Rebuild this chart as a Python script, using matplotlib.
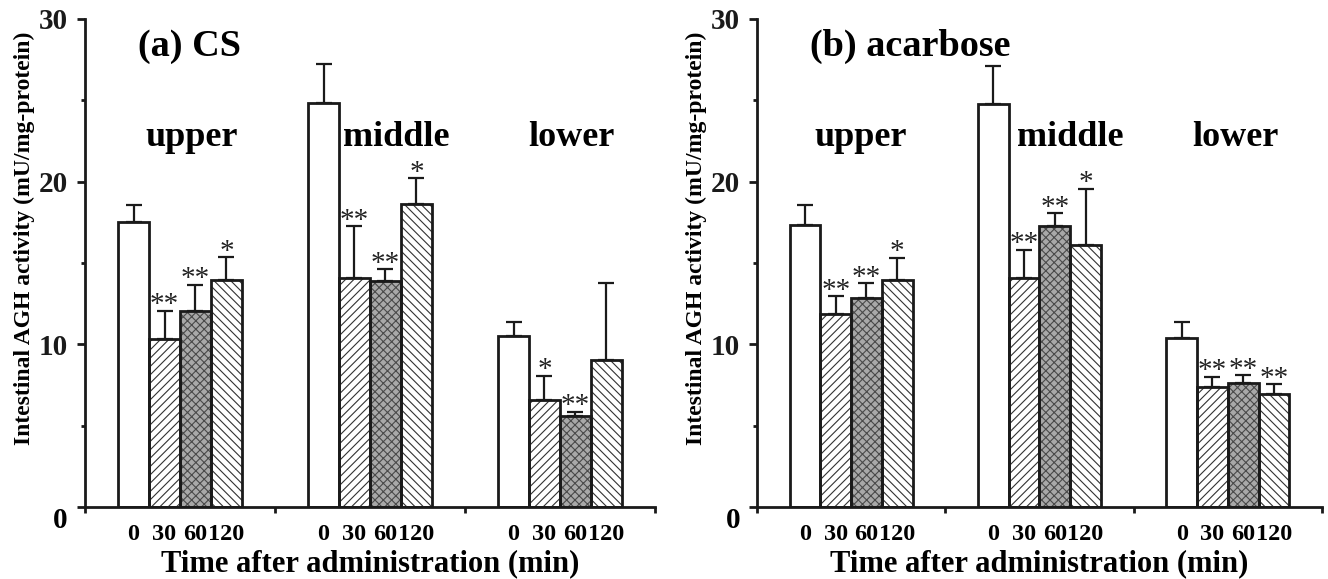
import matplotlib
matplotlib.use("Agg")
import matplotlib.pyplot as plt
import numpy as np

plt.rcParams['font.family'] = ['Liberation Serif', 'DejaVu Serif']
plt.rcParams['font.weight'] = 'bold'
plt.rcParams['axes.labelweight'] = 'bold'
plt.rcParams['hatch.linewidth'] = 0.8

regions = ['upper', 'middle', 'lower']
times = ['0', '30', '60', '120']

# (a) CS : mean and upper SD per region, one entry per time point
cs_mean = [[17.55, 10.3, 12.05, 13.95],
           [24.85, 14.1, 13.9, 18.6],
           [10.5, 6.55, 5.6, 9.05]]
cs_sd = [[1.0, 1.75, 1.6, 1.4],
         [2.4, 3.15, 0.7, 1.6],
         [0.9, 1.5, 0.25, 4.7]]
cs_stars = [['', '**', '**', '*'],
            ['', '**', '**', '*'],
            ['', '*', '**', '']]

# (b) acarbose
ac_mean = [[17.35, 11.85, 12.85, 13.95],
           [24.75, 14.05, 17.3, 16.1],
           [10.4, 7.4, 7.65, 6.95]]
ac_sd = [[1.2, 1.1, 0.9, 1.35],
         [2.35, 1.75, 0.75, 3.45],
         [0.95, 0.6, 0.45, 0.6]]
ac_stars = [['', '**', '**', '*'],
            ['', '**', '**', '*'],
            ['', '**', '**', '**']]

# fill styles for 0 / 30 / 60 / 120 min
faces = ['white', 'white', '#a8a8a8', 'white']
hatch_col = ['black', '#333333', '#4a4a4a', '#333333']
hatches = [None, '////', 'xxxx', '\\\\\\\\']

W = 0.163


def panel(ax, means, sds, stars, title, label_x):
    centers = []
    for g in range(len(regions)):
        for i in range(len(times)):
            x = g + 0.5 + (i - 1.5) * W
            centers.append(x)
            ax.bar(x, means[g][i], W, color=faces[i], edgecolor=hatch_col[i],
                   hatch=hatches[i], linewidth=0, zorder=2)
            ax.bar(x, means[g][i], W, fill=False, edgecolor='#1a1a1a',
                   linewidth=2, zorder=3)
            ax.errorbar(x, means[g][i], yerr=[[0], [sds[g][i]]], fmt='none',
                        ecolor='#1a1a1a', elinewidth=1.6, capsize=6,
                        capthick=1.6, zorder=4)
            if stars[g][i]:
                ax.annotate(stars[g][i], (x, means[g][i] + sds[g][i]),
                            xytext=(0, -1), textcoords='offset points',
                            ha='center', va='baseline', fontsize=21,
                            fontweight='normal', color='#222222')
        ax.text(label_x[g], 22.2, regions[g], ha='center', va='baseline',
                fontsize=26)

    ax.text(0.28, 27.75, title, ha='left', va='baseline', fontsize=27.5)

    ax.set_xlim(0, 3)
    ax.set_ylim(0, 30)
    ax.spines['top'].set_visible(False)
    ax.spines['right'].set_visible(False)
    for s in ['left', 'bottom']:
        ax.spines[s].set_linewidth(2)
        ax.spines[s].set_color('#1a1a1a')

    ax.set_yticks([0, 10, 20, 30])
    ax.set_yticklabels(['', '10', '20', '30'], fontsize=21)
    ax.set_yticks([5, 15, 25], minor=True)
    ax.tick_params(axis='y', which='major', length=6, width=2, pad=6,
                   colors='#1a1a1a')
    ax.tick_params(axis='y', which='minor', length=3, width=2,
                   colors='#1a1a1a')
    ax.text(-0.03, -0.86, '0', transform=ax.get_yaxis_transform(),
            ha='right', va='center', fontsize=21, clip_on=False)

    ax.set_xticks([0, 1, 2, 3])
    ax.set_xticklabels([])
    ax.set_xticks(centers, minor=True)
    ax.set_xticklabels(times * len(regions), minor=True, fontsize=17.5)
    ax.tick_params(axis='x', which='major', length=4, width=2,
                   colors='#1a1a1a')
    ax.tick_params(axis='x', which='minor', length=0, pad=12)

    ax.set_ylabel('Intestinal AGH activity (mU/mg-protein)', fontsize=17)
    ax.yaxis.set_label_coords(-0.088, 0.55)
    ax.set_xlabel('Time after administration (min)', fontsize=22)
    ax.xaxis.set_label_coords(0.5, -0.087)


fig = plt.figure(figsize=(13.28, 5.79), dpi=100)
ax1 = fig.add_axes([0.0640, 0.1244, 0.4292, 0.8428])
ax2 = fig.add_axes([0.5700, 0.1244, 0.4255, 0.8428])

panel(ax1, cs_mean, cs_sd, cs_stars, '(a) CS', [0.56, 1.64, 2.56])
panel(ax2, ac_mean, ac_sd, ac_stars, '(b) acarbose', [0.55, 1.665, 2.54])

fig.savefig('out.png', dpi=100, facecolor='white')
